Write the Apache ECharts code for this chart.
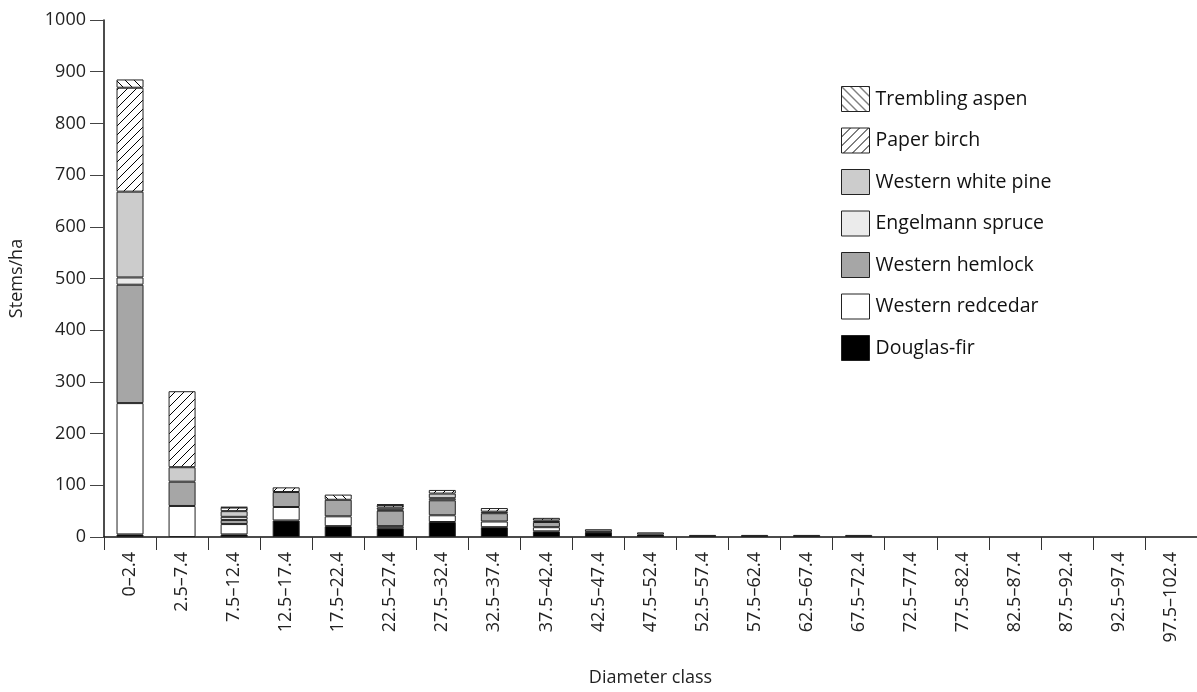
<!DOCTYPE html>
<html>
<head>
<meta charset="utf-8">
<script src="https://cdn.jsdelivr.net/npm/echarts@6/dist/echarts.min.js"></script>
<style>
html,body{margin:0;padding:0;background:#fff;}
#chart{width:1197px;height:692px;}
</style>
</head>
<body>
<div id="chart"></div>
<script>
const categories = ['0–2.4','2.5–7.4','7.5–12.4','12.5–17.4','17.5–22.4','22.5–27.4','27.5–32.4','32.5–37.4','37.5–42.4','42.5–47.4','47.5–52.4','52.5–57.4','57.5–62.4','62.5–67.4','67.5–72.4','72.5–77.4','77.5–82.4','82.5–87.4','87.5–92.4','92.5–97.4','97.5–102.4'];
const douglasFir       = [5, 0, 5, 32, 21, 17, 29, 19, 11, 9, 5, 4, 4, 4, 4, 0, 0, 0, 0, 0, 0];
const westernRedcedar  = [254, 60, 20, 26, 19, 4, 13, 11, 8, 1, 4, 0, 0, 0, 0, 0, 0, 0, 0, 0, 0];
const westernHemlock   = [229, 47, 8, 29, 32, 30, 29, 16, 10, 5, 0, 0, 0, 0, 0, 0, 0, 0, 0, 0, 0];
const engelmannSpruce  = [14, 0, 6, 0, 0, 2, 4, 0, 0, 0, 0, 0, 0, 0, 0, 0, 0, 0, 0, 0, 0];
const westernWhitePine = [166, 28, 11, 0, 0, 4, 9, 3, 3, 0, 0, 0, 0, 0, 0, 0, 0, 0, 0, 0, 0];
const paperBirch       = [201, 147, 7, 9, 0, 5, 7, 7, 5, 0, 0, 0, 0, 0, 0, 0, 0, 0, 0, 0, 0];
const tremblingAspen   = [16, 0, 1, 0, 10, 1, 0, 0, 0, 0, 0, 0, 0, 0, 0, 0, 0, 0, 0, 0, 0];
const yTicks = [0, 1000, 100];

function hatch(dir) {
  const s = 9;
  const c = document.createElement('canvas');
  c.width = s; c.height = s;
  const g = c.getContext('2d');
  g.fillStyle = '#fff'; g.fillRect(0, 0, s, s);
  g.strokeStyle = '#000'; g.lineWidth = 1;
  g.beginPath();
  if (dir === '/') {
    for (let k = -1; k <= 1; k++) { g.moveTo(k * s, s); g.lineTo(k * s + s, 0); }
  } else {
    for (let k = -1; k <= 1; k++) { g.moveTo(k * s, 0); g.lineTo(k * s + s, s); }
  }
  g.stroke();
  return { image: c, repeat: 'repeat' };
}

const seriesDefs = [
  ['Douglas-fir', douglasFir, '#000000'],
  ['Western redcedar', westernRedcedar, '#ffffff'],
  ['Western hemlock', westernHemlock, '#a6a6a6'],
  ['Engelmann spruce', engelmannSpruce, '#ebebeb'],
  ['Western white pine', westernWhitePine, '#cccccc'],
  ['Paper birch', paperBirch, hatch('/')],
  ['Trembling aspen', tremblingAspen, hatch('\\')]
];

const FONT = 'Open Sans';
const chart = echarts.init(document.getElementById('chart'), null, {renderer: 'canvas'});
chart.setOption({
  animation: false,
  backgroundColor: '#fff',
  grid: { left: 103, top: 20, width: 1102, height: 518 },
  legend: {
    orient: 'vertical',
    left: 836, top: 81,
    icon: 'rect',
    itemWidth: 28, itemHeight: 25, itemGap: 15.5,
    data: seriesDefs.map(d => d[0]).reverse(),
    textStyle: { fontFamily: FONT, fontSize: 19.5, color: '#111', padding: [0, 0, 0, 1] },
    itemStyle: { borderColor: '#222', borderWidth: 1 }
  },
  xAxis: {
    type: 'category',
    data: categories,
    name: 'Diameter class',
    nameLocation: 'middle',
    nameGap: 132,
    nameTextStyle: { fontFamily: FONT, fontSize: 18, color: '#222' },
    axisLine: { lineStyle: { color: '#111', width: 1.5 } },
    axisTick: { show: true, length: 13, lineStyle: { color: '#333' } },
    axisLabel: { rotate: 90, margin: 15, fontFamily: FONT, fontSize: 18, color: '#222', interval: 0 }
  },
  yAxis: {
    type: 'value',
    min: yTicks[0], max: yTicks[1], interval: yTicks[2],
    name: 'Stems/ha',
    nameLocation: 'middle',
    nameGap: 78,
    nameTextStyle: { fontFamily: FONT, fontSize: 18, color: '#222' },
    axisLine: { show: true, lineStyle: { color: '#111', width: 1.5 } },
    axisTick: { show: true, inside: false, length: 14, lineStyle: { color: '#444' } },
    axisLabel: { fontFamily: FONT, fontSize: 18, color: '#222', margin: 18, formatter: v => String(v) },
    splitLine: { show: false }
  },
  series: seriesDefs.map(d => ({
    name: d[0],
    type: 'bar',
    stack: 'total',
    barWidth: 27,
    data: d[1].map(v => v === 0 ? '-' : v),
    itemStyle: { color: d[2], borderColor: '#222', borderWidth: 1 },
    emphasis: { disabled: true }
  }))
});
</script>
</body>
</html>
